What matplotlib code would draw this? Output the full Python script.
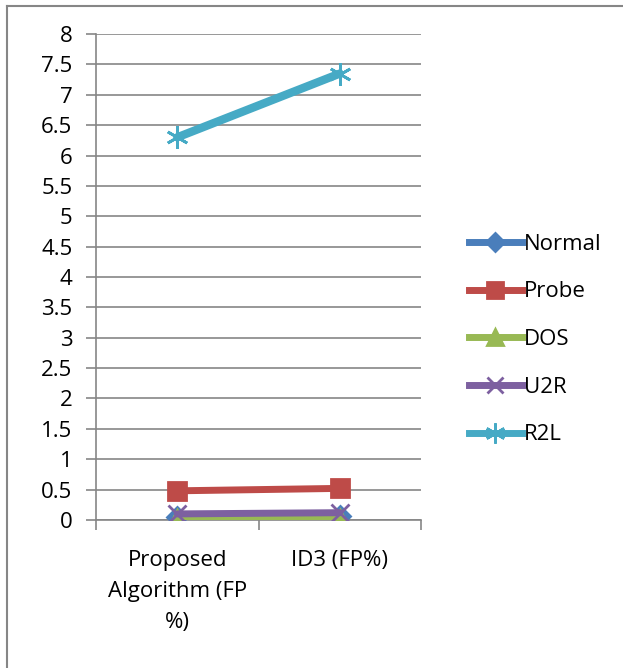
import matplotlib
matplotlib.use("Agg")
import matplotlib.pyplot as plt
from matplotlib.lines import Line2D

categories = ["Proposed\nAlgorithm (FP\n%)", "ID3 (FP%)"]
normal = [0.05, 0.06]
probe = [0.48, 0.52]
dos = [0.02, 0.02]
u2r = [0.10, 0.12]
r2l = [6.30, 7.35]

plt.rcParams['font.family'] = ['Open Sans', 'DejaVu Sans']
FS = 16

fig = plt.figure(figsize=(6.23, 6.68), dpi=100)
ax = fig.add_axes([0.154, 0.2216, 0.522, 0.7274])

x = [0.5, 1.5]
series = [
    ("Normal", normal, "#4a7ebb", "D", 10),
    ("Probe", probe, "#be4b48", "s", 13),
    ("DOS", dos, "#98b954", "^", 13),
    ("U2R", u2r, "#7d60a0", "x", 13),
    ("R2L", r2l, "#46aac5", (6, 2, 0), 16),
]
for name, vals, col, mk, ms in series:
    lw = 6 if name == "R2L" else 5
    ax.plot(x, vals, color=col, lw=lw, marker=mk, markersize=ms,
            markeredgecolor=col, markeredgewidth=2, label=name,
            solid_capstyle="round", zorder=3)

ax.set_xlim(0, 2)
ax.set_ylim(0, 8)
ax.set_yticks([i * 0.5 for i in range(17)])
ax.set_yticklabels(["%g" % (i * 0.5) for i in range(17)], fontsize=FS)
ax.set_xticks([0, 1, 2])
ax.set_xticklabels([])
for xi, lab in zip(x, categories):
    ax.text(xi, -0.5, lab, ha="center", va="top", fontsize=FS,
            transform=ax.transData, linespacing=1.6)
ax.yaxis.grid(True, color="#868686", lw=1.2)
ax.set_axisbelow(True)
for s in ["top", "right"]:
    ax.spines[s].set_visible(False)
for s in ["left", "bottom"]:
    ax.spines[s].set_color("#868686")
    ax.spines[s].set_linewidth(1.2)
ax.tick_params(axis="both", color="#868686", length=7, width=1.2)
ax.tick_params(axis="y", pad=10)

handles = [Line2D([0], [0], color=c, lw=5, marker=m, markersize=ms * 0.9,
                  markeredgecolor=c, markeredgewidth=2)
           for _, _, c, m, ms in series]
fig.legend(handles, [s[0] for s in series], loc="upper left",
           bbox_to_anchor=(0.72, 0.68), frameon=False, fontsize=FS,
           handlelength=2.4, labelspacing=1.2, handletextpad=0.1)

# outer chart border
fig.add_artist(Line2D([0.012, 0.012], [0, 0.991], color="#868686", lw=1.5))
fig.add_artist(Line2D([0.012, 1], [0.991, 0.991], color="#868686", lw=1.5))

fig.savefig("out.png", dpi=100)
